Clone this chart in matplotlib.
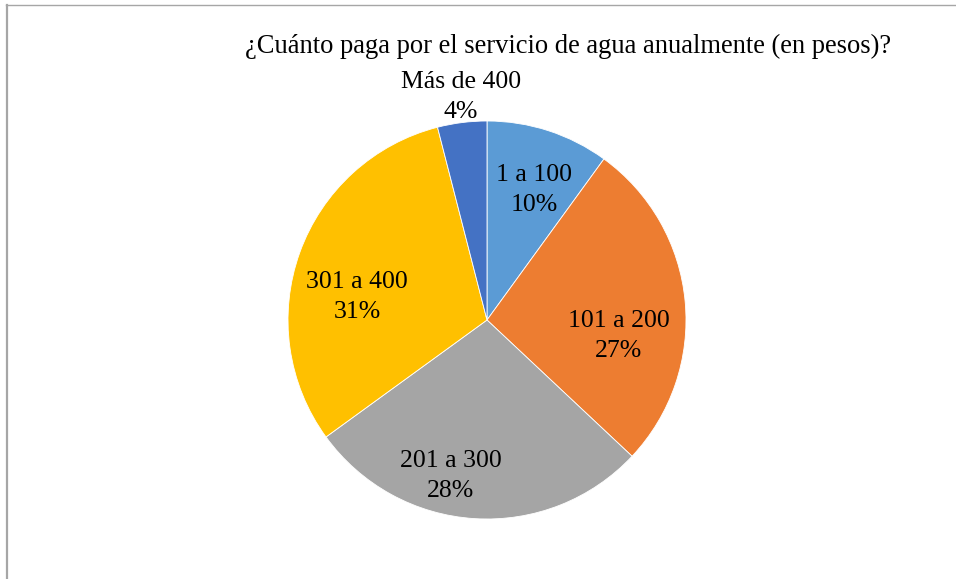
import matplotlib
matplotlib.use("Agg")
import matplotlib.pyplot as plt
from matplotlib.lines import Line2D

categories = ["1 a 100", "101 a 200", "201 a 300", "301 a 400", "Más de 400"]
values = [10, 27, 28, 31, 4]
colors = ["#5B9BD5", "#ED7D31", "#A5A5A5", "#FFC000", "#4472C4"]
title = "¿Cuánto paga por el servicio de agua anualmente (en pesos)?"

W, H = 956, 579
cx, cy, R = 487, 320, 199

plt.rcParams['font.family'] = ['Liberation Serif', 'DejaVu Serif']
fig = plt.figure(figsize=(W / 100, H / 100), dpi=100)
ax = fig.add_axes([0, 0, 1, 1])

wedges, _ = ax.pie(values, colors=colors, startangle=90, counterclock=False,
                   radius=1, center=(0, 0), frame=True,
                   wedgeprops=dict(linewidth=0.6, edgecolor='white'))
ax.set_xlim(-cx / R, (W - cx) / R)
ax.set_ylim((cy - H) / R, cy / R)
ax.set_aspect('auto')
ax.axis('off')

# label positions (pixel centres of the two-line labels)
label_px = [(534, 190), (619, 336), (451, 476), (357, 297), (461, 97)]
for cat, v, (px, py) in zip(categories, values, label_px):
    ax.text((px - cx) / R, (cy - py) / R, f"{cat}\n{v}%", ha='center', va='center',
            fontsize=18.5, color='black', linespacing=1.45)

fig.text(568 / W, 1 - 46 / H, title, ha='center', va='center', fontsize=19.1, color='black')

# chart border
fig.add_artist(Line2D([6 / W, 1], [1 - 5 / H, 1 - 5 / H], transform=fig.transFigure,
                      color='#A6A6A6', linewidth=1.0))
fig.add_artist(Line2D([7 / W, 7 / W], [0, 1 - 5 / H], transform=fig.transFigure,
                      color='#A6A6A6', linewidth=1.6))

fig.savefig("out.png", dpi=100)
